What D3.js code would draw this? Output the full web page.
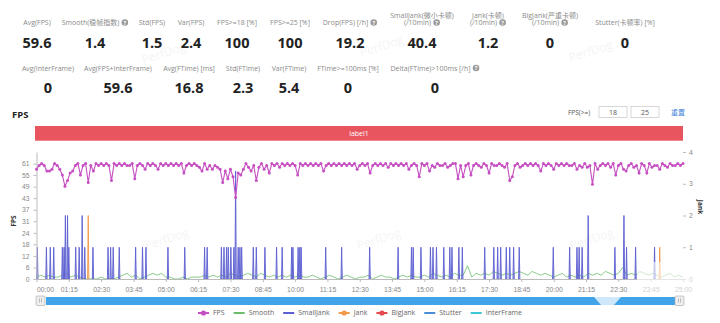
<!DOCTYPE html>
<html><head><meta charset="utf-8">
<script src="https://cdn.jsdelivr.net/npm/d3@7"></script>
<style>
body{margin:0;background:#fff;}
svg{display:block;font-family:"Open Sans","Noto Sans CJK SC",sans-serif;}
</style></head><body>
<svg id="c" width="720" height="323"></svg>
<script>
// ---------------- DATA ----------------
const statLabels1 = ["Avg(FPS)", "Smooth(稳帧指数)", "Std(FPS)", "Var(FPS)", "FPS>=18 [%]", "FPS>=25 [%]", "Drop(FPS) [/h]", "SmallJank(微小卡顿)\n(/10min)", "Jank(卡顿)\n(/10min)", "BigJank(严重卡顿)\n(/10min)", "Stutter(卡顿率) [%]"];
const statValues1 = ["59.6", "1.4", "1.5", "2.4", "100", "100", "19.2", "40.4", "1.2", "0", "0"];
const statHelp1 = [1, 6, 7, 8, 9];
const statLabels2 = ["Avg(InterFrame)", "Avg(FPS+InterFrame)", "Avg(FTime) [ms]", "Std(FTime)", "Var(FTime)", "FTime>=100ms [%]", "Delta(FTime)>100ms [/h]"];
const statValues2 = ["0", "59.6", "16.8", "2.3", "5.4", "0", "0"];
const statHelp2 = [6];

const seriesNames = ["FPS", "Smooth", "SmallJank", "Jank", "BigJank", "Stutter", "InterFrame"];
const yLeftTicks = [0, 6.1, 12.2, 18.3, 24.4, 30.5, 36.6, 42.7, 48.8, 54.9, 61];
const yLeftTickLabels = ["0", "6", "12", "18", "24", "31", "37", "43", "49", "55", "61"];
const yRightTicks = [0, 1, 2, 3, 4];
const xTickSeconds = [0,75,150,225,300,375,450,525,600,675,750,825,900,975,1050,1125,1200,1275,1350,1425,1500];
const thresholds = ["18", "25"];
const bandLabel = "label1";

// FPS sampled every 6 s
const fpsStep = 6;
const fps = [
58,60,61,60,57,57,58,61,60,58,
55,49,52,56,57,60,61,55,60,61,
51,60,57,61,60,61,60,61,60,52,
61,60,61,60,61,60,60,61,53,60,
61,60,58,61,60,61,60,58,61,60,
61,60,61,60,61,60,61,56,60,61,
60,61,60,59,57,61,58,60,58,60,
59,58,51,57,53,58,54,43,56,55,
58,61,59,57,60,52,59,61,58,60,
56,61,60,61,59,61,60,61,60,61,
60,55,61,60,61,60,61,60,61,60,
61,57,60,61,60,61,60,61,60,61,
60,61,60,61,58,60,61,60,61,56,
60,61,60,61,60,61,59,61,60,61,
60,61,60,61,58,60,61,60,54,61,
60,61,57,60,59,61,60,60,61,59,
60,61,61,53,60,54,60,61,55,60,
61,60,59,61,60,56,61,60,60,61,
60,59,61,52,54,60,61,59,60,61,
60,61,60,61,60,57,61,60,61,60,
58,61,60,61,60,61,60,60,61,58,
60,59,61,59,60,50,61,58,60,61,
60,61,59,61,55,60,61,58,57,60,
61,59,60,56,61,60,56,61,59,60,
60,58,61,60,59,61,60,60,61,60,
61];

// Smooth sampled every 10 s
const smoothStep = 10;
const smooth = [
1,2,1,2,1,1,2,3,1,2,
1,0,0,0,0,1,0,0,0,1,
2,3,1,2,0,1,2,3,2,3,
1,1,0,0,1,0,1,1,1,2,
1,2,1,2,1,3,2,1,2,3,
2,1,3,2,1,2,1,2,1,2,
1,2,1,1,2,1,0,1,2,1,
0,1,2,1,0,1,1,2,0,1,
2,1,1,0,1,2,1,2,1,1,
2,1,3,2,1,2,1,3,2,2,
7,1,3,2,3,2,4,3,2,3,
2,3,4,3,2,4,3,2,3,2,
1,2,3,1,2,1,2,1,3,2,
3,2,4,3,2,3,6,2,3,2,
4,3,2,3,2,1,2,3,1,2,
1];

// SmallJank events [second, count]
const smallJank = [
[2,1],[23,1],[32,1],[40,1],[60,1],[64,1],[67,2],[72,2],[75,1],[91,1],[99,1],[106,2],[112,1],
[131,1],[166,1],[172,1],[178,1],[192,1],[230,1],[246,1],[254,1],[305,1],[344,1],[390,1],[396,1],
[429,1],[435,1],[441,1],[445,1],[451,1],[458,1],[462,3.4],[468,1],[472,1],[476,1],[503,1],[510,1],
[530,1],[557,1],[570,1],[592,1],[595,1],[607,1],[611,1],[614,1],[671,1],[708,1],[773,1],[839,1],
[870,1],[874,1],[892,1],[914,1],[920,1],[928,1],[945,1],[959,1],[964,1],[980,1],[988,1],[1040,1],
[1061,1],[1070,1],[1077,1],[1090,1],[1098,1],[1107,1],[1120,1],[1199,1],[1237,1],[1254,1],[1259,1],
[1266,1],[1280,2],[1342,1],[1363,2],[1369,1],[1390,1],[1434,1]];
// Jank events [second, count]
const jank = [[120,2],[1446,1]];
const bigJank = [];
const stutter = [];
const interFrame = [];

// ---------------- STYLE ----------------
const colors = {FPS:"#c64fc2", Smooth:"#6bbd6b", SmallJank:"#5b5fd0", Jank:"#f2994a", BigJank:"#e5484d", Stutter:"#4a8fd6", InterFrame:"#3ec6d6"};
const svg = d3.select("#c");

function drawStats(labels, values, centers, helps, yLab, yVal) {
  labels.forEach((lab, i) => {
    const lines = lab.split("\n");
    const cx = centers[i];
    lines.forEach((ln, j) => {
      const yy = yLab - (lines.length - 1 - j) * 7.5;
      const t = svg.append("text").attr("y", yy).attr("font-size", 7).attr("fill", "#8a8a8a").text(ln);
      const w = t.node().getComputedTextLength();
      const hasHelp = helps.includes(i) && j === lines.length - 1;
      const tot = w + (hasHelp ? 9 : 0);
      const x0 = cx - tot / 2;
      t.attr("x", x0);
      if (hasHelp) {
        svg.append("circle").attr("cx", x0 + w + 5.5).attr("cy", yy - 2.5).attr("r", 3.3).attr("fill", "#9a9a9a");
        svg.append("text").attr("x", x0 + w + 5.5).attr("y", yy - 0.4).attr("text-anchor", "middle")
          .attr("font-size", 5.5).attr("font-weight", 700).attr("fill", "#fff").text("?");
      }
    });
    svg.append("text").attr("x", cx).attr("y", yVal).attr("text-anchor", "middle")
      .attr("font-size", 14.5).attr("font-weight", 700).attr("fill", "#222").text(values[i]);
  });
}
drawStats(statLabels1, statValues1, [37, 95, 152, 191, 237, 290, 350, 422, 488, 550, 625], statHelp1, 25, 47.5);
drawStats(statLabels2, statValues2, [48, 118, 189, 243, 289, 348, 435], statHelp2, 70.5, 93);

// watermarks
[[165,57],[383,50],[592,55],[168,243],[380,243],[593,243]].forEach(p => {
  svg.append("text").attr("transform", `translate(${p[0]},${p[1]}) rotate(-18)`).attr("text-anchor", "middle")
    .attr("font-size", 12).attr("fill", "#000").attr("opacity", 0.04).text("PerfDog");
});

// title + controls
svg.append("text").attr("x", 12).attr("y", 118).attr("font-size", 9.5).attr("font-weight", 700).attr("fill", "#222").text("FPS");
svg.append("text").attr("x", 568).attr("y", 114.5).attr("font-size", 6.5).attr("fill", "#555").text("FPS(>=)");
thresholds.forEach((th, i) => {
  const bx = 599 + i * 32;
  svg.append("rect").attr("x", bx).attr("y", 106.5).attr("width", 28).attr("height", 11).attr("fill", "#fff").attr("stroke", "#ccc").attr("stroke-width", 0.8);
  svg.append("text").attr("x", bx + 14).attr("y", 114.8).attr("text-anchor", "middle").attr("font-size", 7).attr("fill", "#555").text(th);
});
svg.append("text").attr("x", 671).attr("y", 114.5).attr("font-size", 7).attr("fill", "#3c7fd8").text("重置");

// scales
const x = d3.scaleLinear([0, 1500], [36.5, 683]);
const yL = d3.scaleLinear([0, 67.1], [279, 152]);
const yR = d3.scaleLinear([0, 4], [279, 152]);

// label band
svg.append("rect").attr("x", 35).attr("y", 126).attr("width", 683 - 35).attr("height", 14.7).attr("fill", "#e8555f");
svg.append("text").attr("x", 359).attr("y", 135.8).attr("text-anchor", "middle").attr("font-size", 7).attr("fill", "#fff").text(bandLabel);

// series: Smooth
const smoothLine = d3.line().x((d, i) => x(i * smoothStep)).y(d => yL(d));
svg.append("path").datum(smooth).attr("d", smoothLine).attr("fill", "none").attr("stroke", colors.Smooth).attr("stroke-width", 0.8);

// SmallJank & Jank spikes
function spikes(data, color) {
  const g = svg.append("g");
  g.selectAll("path").data(data).join("path")
    .attr("d", d => `M${x(d[0] - 1.5)},${yR(0)}L${x(d[0])},${yR(d[1])}L${x(d[0] + 1.5)},${yR(0)}Z`)
    .attr("fill", color).attr("fill-opacity", 0.45).attr("stroke", color).attr("stroke-width", 0.9);
}
spikes(smallJank, colors.SmallJank);
spikes(jank, colors.Jank);
spikes(bigJank, colors.BigJank);
spikes(stutter, colors.Stutter);
spikes(interFrame, colors.InterFrame);

// axes
const gx = svg.append("g").attr("transform", `translate(0,${yL(0)})`)
  .call(d3.axisBottom(x).tickValues(xTickSeconds).tickSize(3).tickSizeOuter(0)
    .tickFormat(s => String(Math.floor(s / 60)).padStart(2, "0") + ":" + String(s % 60).padStart(2, "0")));
const gl = svg.append("g").attr("transform", `translate(${x(0)},0)`)
  .call(d3.axisLeft(yL).tickValues(yLeftTicks).tickSize(3).tickSizeOuter(0).tickFormat((d, i) => yLeftTickLabels[i]));
const gr = svg.append("g").attr("transform", `translate(${x(1500)},0)`)
  .call(d3.axisRight(yR).tickValues(yRightTicks).tickSize(3).tickSizeOuter(0).tickFormat(d3.format("d")));
gr.select(".domain").remove();
[gx, gl, gr].forEach(g => {
  g.selectAll(".domain").attr("stroke", "#bbb");
  g.selectAll(".tick line").attr("stroke", "#bbb");
  g.selectAll(".tick text").attr("fill", "#888").attr("font-size", 6.8).attr("font-family", null);
});
gx.selectAll(".tick text").attr("dy", "1.05em");
gx.select(".tick text").attr("text-anchor", "start");
gl.selectAll(".tick text").attr("dx", "-1");

// FPS line + points (drawn on top)
const fpsLine = d3.line().x((d, i) => x(i * fpsStep)).y(d => yL(d));
svg.append("path").datum(fps).attr("d", fpsLine).attr("fill", "none").attr("stroke", colors.FPS).attr("stroke-width", 1.1);
svg.append("g").selectAll("circle").data(fps).join("circle")
  .attr("cx", (d, i) => x(i * fpsStep)).attr("cy", d => yL(d)).attr("r", 1.5).attr("fill", colors.FPS);

// axis titles
svg.append("text").attr("transform", `translate(16,221) rotate(-90)`).attr("text-anchor", "middle")
  .attr("font-size", 6.5).attr("font-weight", 700).attr("fill", "#333").text("FPS");
svg.append("text").attr("transform", `translate(698,207) rotate(90)`).attr("text-anchor", "middle")
  .attr("font-size", 6.5).attr("font-weight", 700).attr("fill", "#333").text("Jank");

// faded overlay at bottom right
svg.append("rect").attr("x", 637).attr("y", 262).attr("width", 58).attr("height", 31).attr("fill", "#fff").attr("opacity", 0.6);

// data zoom slider
svg.append("rect").attr("x", 46).attr("y", 297).attr("width", 675 - 46).attr("height", 8).attr("fill", "#41a3e8");
svg.append("polygon").attr("points", "594,297 621,297 614,305 601,305").attr("fill", "#cfe7fa");
[36, 675].forEach(hx => {
  svg.append("rect").attr("x", hx).attr("y", 296).attr("width", 9).attr("height", 9.5).attr("rx", 1).attr("fill", "#eee").attr("stroke", "#aaa").attr("stroke-width", 0.6);
  [3.5, 5.5].forEach(o => svg.append("line").attr("x1", hx + o).attr("x2", hx + o).attr("y1", 298.5).attr("y2", 302.5).attr("stroke", "#999").attr("stroke-width", 0.6));
});

// legend
const lg = svg.append("g");
let cur = 0;
const symbolSeries = ["FPS", "Jank", "BigJank"];
seriesNames.forEach(n => {
  const g = lg.append("g").attr("transform", `translate(${cur},0)`);
  g.append("line").attr("x1", 0).attr("x2", 11).attr("y1", 0).attr("y2", 0).attr("stroke", colors[n]).attr("stroke-width", 2);
  if (symbolSeries.includes(n)) g.append("circle").attr("cx", 5.5).attr("cy", 0).attr("r", 2.6).attr("fill", colors[n]);
  const t = g.append("text").attr("x", 15).attr("y", 2.4).attr("font-size", 7).attr("fill", "#666").text(n);
  cur += 15 + t.node().getComputedTextLength() + 9;
});
const total = cur - 9;
lg.attr("transform", `translate(${360 - total / 2},313)`);
</script>
</body></html>
